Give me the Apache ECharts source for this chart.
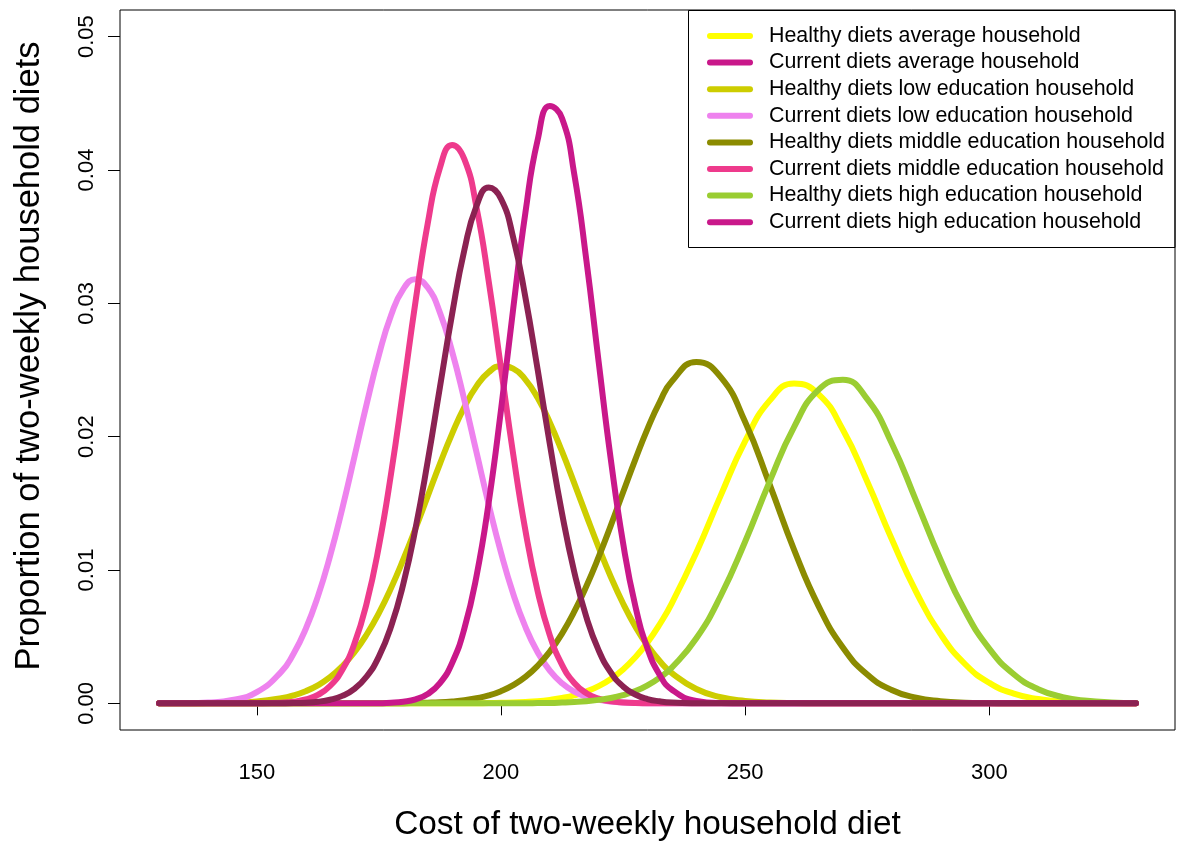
<!DOCTYPE html>
<html>
<head>
<meta charset="utf-8">
<script src="https://cdn.jsdelivr.net/npm/echarts@6/dist/echarts.min.js"></script>
<style>
  html, body { margin: 0; padding: 0; background: #fff; }
  #chart { width: 1178px; height: 842px; }
</style>
</head>
<body>
<div id="chart"></div>
<script>
// Cost of a two-weekly household diet; sampled more densely where the narrow curves peak
const cost = [
  130,135,140,145,150,
  155,157.5,160,162.5,165,167.5,170,172.5,175,177.5,180,182.5,185,187.5,190,192.5,195,197.5,
  200,202.5,205,207.5,210,212.5,215,217.5,220,222.5,225,227.5,230,232.5,235,
  240,245,250,255,260,265,270,275,280,285,290,295,300,305,310,315,320,325,330
];

// Proportion of households at each cost
const healthyAverage = [
  0,0,0,0,0,
  0,0,0,0,0,0,0,0,0,0,0,0,0,0,0,0,0.00001,0.00002,
  0.00004,0.00006,0.0001,0.00016,0.00026,0.0004,0.0006,0.00089,0.00129,0.00183,0.00254,0.00345,0.00457,0.00593,0.00752,
  0.01132,0.0156,0.01967,0.0227,0.02399,0.02319,0.02052,0.01662,0.01232,0.00836,0.00519,0.00295,0.00153,0.00073,0.00032,0.00013,0.00005,0.00002,0
];
const currentAverage = [
  0,0,0,0,0,
  0.00001,0.00002,0.00005,0.00012,0.00027,0.00056,0.00109,0.00201,0.0035,0.00576,0.00895,0.01311,0.01815,0.0237,0.02921,0.03399,0.03732,0.03868,
  0.03784,0.03494,0.03045,0.02505,0.01945,0.01425,0.00986,0.00644,0.00397,0.00231,0.00127,0.00066,0.00032,0.00015,0.00006,
  0.00001,0,0,0,0,0,0,0,0,0,0,0,0,0,0,0,0,0,0
];
const healthyLow = [
  0,0,0.00002,0.00005,0.00014,
  0.00038,0.00059,0.00091,0.00135,0.00196,0.00278,0.00383,0.00516,0.00677,0.00865,0.01079,0.01311,0.01554,0.01796,0.02023,0.02222,0.02379,0.02484,
  0.02529,0.0251,0.02428,0.02291,0.02107,0.01889,0.01652,0.01408,0.0117,0.00948,0.00749,0.00577,0.00433,0.00317,0.00226,
  0.00107,0.00046,0.00018,0.00006,0.00002,0.00001,0,0,0,0,0,0,0,0,0,0,0,0,0
];
const currentLow = [
  0,0.00001,0.00006,0.00025,0.00084,
  0.00236,0.0037,0.00556,0.008,0.01104,0.0146,0.01849,0.02245,0.02611,0.0291,0.03107,0.0318,0.03118,0.0293,0.02638,0.02275,0.01881,0.0149,
  0.01131,0.00822,0.00573,0.00383,0.00245,0.0015,0.00088,0.0005,0.00027,0.00014,0.00007,0.00003,0.00001,0.00001,0,
  0,0,0,0,0,0,0,0,0,0,0,0,0,0,0,0,0,0,0
];
const healthyMiddle = [
  0,0,0,0,0,
  0,0,0,0,0,0,0,0,0,0.00001,0.00001,0.00003,0.00005,0.00008,0.00014,0.00023,0.00038,0.00059,
  0.00091,0.00136,0.00198,0.00281,0.00388,0.00523,0.00687,0.0088,0.01098,0.01335,0.01583,0.01828,0.02059,0.02259,0.02416,
  0.0256,0.02446,0.0211,0.01642,0.01153,0.00731,0.00418,0.00216,0.001,0.00042,0.00016,0.00005,0.00002,0,0,0,0,0,0
];
const currentMiddle = [
  0,0,0,0,0.00001,
  0.00005,0.00012,0.00029,0.00063,0.0013,0.0025,0.00448,0.00751,0.01177,0.01723,0.02356,0.03012,0.03598,0.04016,0.04188,0.04081,0.03717,0.03163,
  0.02515,0.01869,0.01297,0.00842,0.0051,0.00289,0.00153,0.00076,0.00035,0.00015,0.00006,0.00002,0.00001,0,0,
  0,0,0,0,0,0,0,0,0,0,0,0,0,0,0,0,0,0,0
];
const healthyHigh = [
  0,0,0,0,0,
  0,0,0,0,0,0,0,0,0,0,0,0,0,0,0,0,0,0,
  0,0.00001,0.00001,0.00002,0.00003,0.00006,0.0001,0.00016,0.00026,0.0004,0.00062,0.00092,0.00135,0.00193,0.00269,
  0.00488,0.00807,0.01214,0.01663,0.02072,0.02351,0.02427,0.02281,0.01951,0.01519,0.01077,0.00694,0.00408,0.00218,0.00106,0.00047,0.00019,0.00007,0.00002
];
const currentHigh = [
  0,0,0,0,0,
  0,0,0,0,0,0,0,0,0.00001,0.00004,0.00012,0.0003,0.0007,0.00151,0.00303,0.0056,0.00956,0.01509,
  0.02199,0.02959,0.03679,0.04224,0.0448,0.04388,0.0397,0.03318,0.02561,0.01826,0.01202,0.00731,0.00411,0.00213,0.00102,
  0.00018,0.00002,0,0,0,0,0,0,0,0,0,0,0,0,0,0,0,0,0
];

// Axis ticks
const costTicks = [150, 200, 250, 300];
const proportionTicks = [0, 0.01, 0.02, 0.03, 0.04, 0.05];

// Series names in legend order
const names = [
  'Healthy diets average household',
  'Current diets average household',
  'Healthy diets low education household',
  'Current diets low education household',
  'Healthy diets middle education household',
  'Current diets middle education household',
  'Healthy diets high education household',
  'Current diets high education household'
];

const colors = {
  healthyAverage: '#FFFF00',
  currentAverage: '#8B2252',
  healthyLow: '#CDCD00',
  currentLow: '#EE82EE',
  healthyMiddle: '#8B8B00',
  currentMiddle: '#EE3A8C',
  healthyHigh: '#9ACD32',
  currentHigh: '#C9188A'
};

function curve(name, values, color) {
  return {
    name: name,
    type: 'line',
    data: cost.map((c, i) => [c, values[i]]),
    smooth: 0.5,
    symbol: 'none',
    color: color,
    lineStyle: { width: 6, color: color, cap: 'round', join: 'round' },
    emphasis: { disabled: true }
  };
}

// Drawing order: the average current-diet curve ends up on top
const series = [
  curve(names[0], healthyAverage, colors.healthyAverage),
  curve(names[2], healthyLow, colors.healthyLow),
  curve(names[3], currentLow, colors.currentLow),
  curve(names[4], healthyMiddle, colors.healthyMiddle),
  curve(names[5], currentMiddle, colors.currentMiddle),
  curve(names[6], healthyHigh, colors.healthyHigh),
  curve(names[7], currentHigh, colors.currentHigh),
  curve(names[1], currentAverage, colors.currentAverage)
];

const pill = 'path://M3 0L43 0A3 3 0 0 1 43 6L3 6A3 3 0 0 1 3 0Z';
const legendKey = [
  colors.healthyAverage, colors.currentHigh, colors.healthyLow, colors.currentLow,
  colors.healthyMiddle, colors.currentMiddle, colors.healthyHigh, colors.currentHigh
];

const font = '"Liberation Sans", Arial, Helvetica, sans-serif';

const option = {
  animation: false,
  backgroundColor: '#ffffff',
  textStyle: { fontFamily: font, color: '#000' },
  grid: {
    left: 120, top: 10, width: 1055, height: 720,
    outerBoundsMode: 'none',
    show: true, borderColor: '#000', borderWidth: 1, backgroundColor: 'transparent'
  },
  xAxis: {
    type: 'value', min: 122, max: 338,
    name: 'Cost of two-weekly household diet',
    nameLocation: 'middle', nameGap: 78,
    nameTextStyle: { fontSize: 33.4, color: '#000', fontFamily: font },
    axisLine: { show: false },
    axisTick: { show: true, customValues: costTicks, length: 12, lineStyle: { color: '#000', width: 1 } },
    axisLabel: { customValues: costTicks, fontSize: 22, color: '#000', margin: 32, fontFamily: font },
    splitLine: { show: false }
  },
  yAxis: {
    type: 'value', min: -0.002, max: 0.052,
    name: 'Proportion of two-weekly household diets',
    nameLocation: 'middle', nameGap: 73,
    nameTextStyle: { fontSize: 34.5, color: '#000', fontFamily: font, padding: [0, 0, 0, 28] },
    axisLine: { show: false },
    axisTick: { show: true, customValues: proportionTicks, length: 12, lineStyle: { color: '#000', width: 1 } },
    axisLabel: {
      customValues: proportionTicks, fontSize: 22, color: '#000', margin: 22, rotate: 90,
      fontFamily: font, formatter: v => v.toFixed(2)
    },
    splitLine: { show: false }
  },
  legend: {
    orient: 'vertical',
    left: 707, top: 23.5, padding: 0,
    itemWidth: 46, itemHeight: 6, itemGap: 1.6,
    icon: pill,
    itemStyle: { borderWidth: 0 },
    textStyle: { fontSize: 21.4, lineHeight: 21, color: '#000', fontFamily: font, padding: [4, 0, 0, 11] },
    selectedMode: false,
    data: names.map((n, i) => ({ name: n, itemStyle: { color: legendKey[i], borderWidth: 0 } }))
  },
  graphic: [{
    type: 'rect',
    shape: { x: 688.5, y: 10.5, width: 486.5, height: 237 },
    style: { fill: null, stroke: '#000', lineWidth: 1 },
    silent: true, z: 10
  }],
  series: series
};

const chart = echarts.init(document.getElementById('chart'), null, { renderer: 'canvas' });
chart.setOption(option);
</script>
</body>
</html>
